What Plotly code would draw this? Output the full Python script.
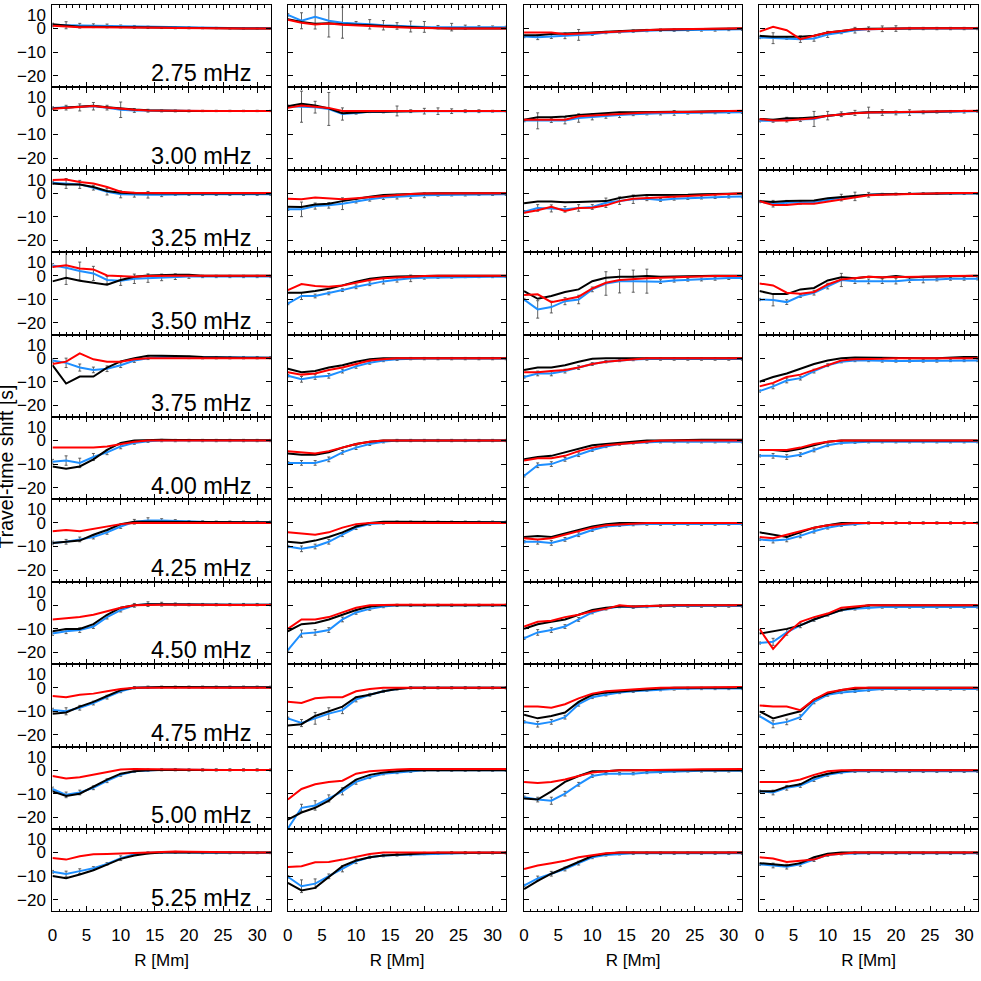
import plotly.graph_objects as go

# ---------------- data ----------------
R = [0, 2, 4, 6, 8, 10, 12, 14, 16, 18, 20, 22, 24, 26, 28, 30, 32]
FREQ_LABELS = ["2.75 mHz", "3.00 mHz", "3.25 mHz", "3.50 mHz", "3.75 mHz", "4.00 mHz",
               "4.25 mHz", "4.50 mHz", "4.75 mHz", "5.00 mHz", "5.25 mHz"]
X_TICKS = [0, 5, 10, 15, 20, 25, 30]
Y_TICKS = [-20, -10, 0]
Y_TOP_LABEL = "10"
X_TITLE = "R [Mm]"
Y_TITLE = "Travel-time shift [s]"

# column 1
BLACK_C1 = [
    [1.8, 1.2, 0.8, 0.8, 0.7, 0.6, 0.5, 0.4, 0.3, 0.2, 0.2, 0.1, 0.1, 0.0, 0.0, 0.0, 0.0],
    [1.0, 1.5, 1.7, 2.2, 1.6, 1.0, 0.6, 0.3, 0.1, 0.0, 0.0, 0.0, 0.0, 0.0, 0.0, 0.0, 0.0],
    [4.2, 3.8, 3.8, 2.7, 1.0, 0.3, 0.0, -0.1, -0.1, -0.1, -0.1, -0.1, -0.1, -0.1, -0.1, -0.1, -0.1],
    [-2.4, -0.9, -2.1, -3.0, -3.8, -1.8, -0.4, 0.1, 0.4, 0.4, 0.4, 0.0, 0.0, 0.0, 0.0, 0.0, 0.0],
    [-3.0, -10.8, -7.8, -7.8, -4.0, -1.4, 0.0, 1.0, 1.0, 1.0, 0.8, 0.5, 0.3, 0.3, 0.2, 0.2, 0.2],
    [-11.0, -12.0, -11.0, -8.0, -4.0, -1.0, 0.0, 0.3, 0.3, 0.2, 0.2, 0.1, 0.1, 0.1, 0.1, 0.1, 0.1],
    [-8.5, -8.0, -7.5, -5.0, -3.0, -0.5, 0.5, 0.5, 0.5, 0.4, 0.3, 0.3, 0.3, 0.3, 0.3, 0.3, 0.3],
    [-11.0, -10.0, -10.0, -8.0, -4.0, -1.0, 0.0, 0.5, 0.5, 0.4, 0.3, 0.3, 0.3, 0.3, 0.3, 0.3, 0.3],
    [-11.0, -10.5, -8.0, -6.0, -3.5, -1.0, 0.0, 0.3, 0.3, 0.3, 0.2, 0.2, 0.2, 0.2, 0.2, 0.2, 0.2],
    [-9.0, -11.0, -10.0, -7.0, -4.0, -1.5, -0.5, 0.0, 0.2, 0.2, 0.1, 0.1, 0.1, 0.1, 0.1, 0.1, 0.1],
    [-10.0, -10.9, -9.3, -7.5, -5.1, -2.7, -1.3, -0.4, 0.0, 0.1, 0.1, 0.0, 0.0, 0.0, 0.0, 0.0, 0.0],
]
RED_C1 = [
    [1.2, 0.8, 0.6, 0.6, 0.6, 0.5, 0.4, 0.3, 0.3, 0.2, 0.1, 0.1, 0.0, 0.0, 0.0, 0.0, 0.0],
    [0.9, 1.4, 1.6, 2.1, 1.5, 0.9, 0.5, 0.2, 0.1, 0.0, 0.0, 0.0, 0.0, 0.0, 0.0, 0.0, 0.0],
    [5.7, 5.9, 4.8, 4.2, 2.7, 0.7, 0.3, 0.1, 0.1, 0.1, 0.1, 0.1, 0.1, 0.1, 0.1, 0.1, 0.1],
    [3.7, 4.4, 3.1, 2.7, 0.1, -0.1, -0.4, -0.1, 0.1, 0.0, 0.0, 0.0, 0.0, 0.0, 0.0, 0.0, 0.0],
    [-2.5, -1.5, 2.0, -0.5, -1.5, -1.5, -0.5, 0.0, 0.0, 0.0, 0.0, 0.0, 0.0, 0.0, 0.0, 0.0, 0.0],
    [-3.0, -3.0, -3.0, -3.0, -2.5, -1.5, -0.5, 0.0, 0.0, 0.0, 0.0, 0.0, 0.0, 0.0, 0.0, 0.0, 0.0],
    [-3.5, -3.0, -3.5, -2.5, -1.5, -0.5, 0.0, 0.0, 0.0, 0.0, 0.0, 0.0, 0.0, 0.0, 0.0, 0.0, 0.0],
    [-6.0, -5.5, -5.0, -4.0, -2.5, -1.0, 0.0, 0.2, 0.2, 0.2, 0.1, 0.1, 0.1, 0.1, 0.1, 0.1, 0.1],
    [-3.5, -4.0, -3.0, -2.5, -1.5, -0.5, 0.0, 0.0, 0.0, 0.0, 0.0, 0.0, 0.0, 0.0, 0.0, 0.0, 0.0],
    [-2.5, -3.5, -3.0, -2.0, -1.0, 0.3, 0.5, 0.5, 0.4, 0.3, 0.2, 0.2, 0.1, 0.1, 0.1, 0.1, 0.1],
    [-2.3, -3.0, -1.6, -0.7, -0.6, -0.4, 0.1, 0.3, 0.4, 0.4, 0.3, 0.3, 0.1, 0.0, 0.0, 0.0, 0.0],
]
BLUE_C1 = [
    [1.5, 1.4, 1.2, 1.2, 1.1, 0.9, 0.7, 0.5, 0.4, 0.3, 0.3, 0.2, 0.2, 0.1, 0.1, 0.1, 0.1],
    [1.2, 1.4, 1.5, 2.0, 1.4, 0.5, 0.2, 0.1, 0.0, 0.0, 0.0, 0.0, 0.0, 0.0, 0.0, 0.0, 0.0],
    [4.5, 4.2, 3.8, 2.4, 0.7, -0.4, -0.6, -0.6, -0.6, -0.4, -0.4, -0.4, -0.4, -0.4, -0.4, -0.4, -0.4],
    [4.4, 3.4, 2.0, 1.0, -1.8, -2.1, -1.3, -1.0, -0.7, -0.4, -0.3, -0.3, -0.3, -0.3, -0.3, -0.3, -0.3],
    [-1.0, -2.0, -4.0, -5.0, -4.5, -3.0, -1.0, 0.0, 0.5, 0.5, 0.3, 0.2, 0.2, 0.2, 0.2, 0.2, 0.2],
    [-9.0, -8.5, -9.5, -7.0, -5.0, -2.5, -1.0, -0.3, 0.0, 0.0, 0.0, 0.0, 0.0, 0.0, 0.0, 0.0, 0.0],
    [-8.5, -8.0, -7.0, -6.0, -4.0, -1.5, 0.5, 1.0, 1.0, 0.8, 0.5, 0.4, 0.3, 0.3, 0.3, 0.3, 0.3],
    [-12.0, -11.0, -10.5, -9.0, -5.0, -2.0, 0.0, 0.5, 0.5, 0.4, 0.3, 0.3, 0.3, 0.3, 0.3, 0.3, 0.3],
    [-9.5, -10.0, -8.5, -6.5, -4.0, -1.5, 0.0, 0.2, 0.2, 0.2, 0.2, 0.2, 0.2, 0.2, 0.2, 0.2, 0.2],
    [-8.0, -10.5, -9.5, -7.5, -4.5, -2.0, -0.5, 0.0, 0.2, 0.2, 0.1, 0.1, 0.1, 0.1, 0.1, 0.1, 0.1],
    [-8.2, -9.1, -7.9, -6.7, -4.8, -2.4, -0.7, -0.1, 0.0, 0.1, 0.0, -0.1, -0.1, -0.1, -0.1, -0.1, -0.1],
]
ERR_C1 = [
    [0.8, 1.5, 1.0, 0.8, 0.8, 0.6, 0.6, 0.5, 0.4, 0.4, 0.4, 0.3, 0.3, 0.3, 0.3, 0.3, 0.3],
    [0.6, 1.0, 1.5, 1.6, 1.0, 3.3, 0.8, 0.6, 0.4, 0.4, 0.4, 0.3, 0.3, 0.3, 0.3, 0.3, 0.3],
    [0.6, 2.1, 1.7, 1.0, 1.4, 1.5, 1.0, 1.4, 0.8, 0.5, 0.5, 0.5, 0.5, 0.5, 0.5, 0.5, 0.5],
    [0.8, 7.1, 3.8, 3.0, 1.5, 2.0, 2.0, 1.8, 1.4, 1.2, 0.8, 0.5, 0.5, 0.5, 0.5, 0.5, 0.5],
    [0.8, 2.0, 1.5, 1.2, 1.2, 1.0, 0.8, 0.6, 0.5, 0.5, 0.5, 0.5, 0.5, 0.5, 0.5, 0.5, 0.5],
    [1.0, 2.0, 2.0, 1.5, 1.0, 1.0, 0.6, 0.5, 0.5, 0.5, 0.5, 0.5, 0.5, 0.5, 0.5, 0.5, 0.5],
    [0.8, 1.0, 1.0, 0.8, 0.8, 0.8, 1.0, 1.2, 0.8, 0.6, 0.5, 0.5, 0.5, 0.5, 0.5, 0.5, 0.5],
    [0.8, 1.0, 1.0, 0.8, 0.8, 0.8, 0.8, 1.0, 0.8, 0.6, 0.5, 0.5, 0.5, 0.5, 0.5, 0.5, 0.5],
    [0.8, 1.5, 1.0, 0.8, 0.8, 0.6, 0.5, 0.5, 0.5, 0.5, 0.5, 0.5, 0.5, 0.5, 0.5, 0.5, 0.5],
    [0.8, 1.2, 1.0, 0.8, 0.8, 0.6, 0.5, 0.5, 0.5, 0.5, 0.5, 0.5, 0.5, 0.5, 0.5, 0.5, 0.5],
    [0.6, 1.2, 1.0, 0.7, 0.5, 1.0, 0.5, 0.4, 0.4, 0.4, 0.4, 0.4, 0.4, 0.4, 0.4, 0.4, 0.4],
]

# column 2
BLACK_C2 = [
    [4.0, 2.8, 2.0, 2.3, 1.8, 1.7, 1.4, 1.1, 0.8, 0.5, 0.2, 0.1, 0.0, 0.0, 0.0, 0.0, 0.0],
    [2.0, 3.0, 2.3, 1.1, -1.0, -0.6, -0.3, -0.3, -0.1, 0.0, 0.0, 0.0, 0.0, 0.0, 0.0, 0.0, 0.0],
    [-5.7, -5.8, -4.7, -4.4, -3.3, -2.3, -1.4, -0.7, -0.4, -0.3, -0.1, 0.0, 0.0, 0.0, 0.0, 0.0, 0.0],
    [-7.2, -7.2, -6.5, -5.5, -4.1, -2.5, -1.3, -0.6, -0.3, -0.1, 0.0, 0.0, 0.0, 0.0, 0.0, 0.0, 0.0],
    [-4.5, -6.0, -5.5, -4.0, -3.0, -1.5, -0.5, 0.0, 0.0, 0.0, 0.0, 0.0, 0.0, 0.0, 0.0, 0.0, 0.0],
    [-5.5, -6.0, -6.0, -5.0, -3.0, -1.5, -0.5, 0.0, 0.0, 0.0, 0.0, 0.0, 0.0, 0.0, 0.0, 0.0, 0.0],
    [-8.0, -8.5, -7.5, -6.0, -4.0, -1.5, 0.0, 0.5, 0.5, 0.5, 0.5, 0.4, 0.3, 0.3, 0.3, 0.3, 0.3],
    [-11.0, -8.0, -7.5, -6.0, -4.0, -2.0, -0.5, 0.0, 0.0, 0.0, 0.0, 0.0, 0.0, 0.0, 0.0, 0.0, 0.0],
    [-16.0, -15.5, -12.0, -10.0, -8.0, -4.0, -3.0, -1.5, -0.5, 0.0, 0.0, 0.0, 0.0, 0.0, 0.0, 0.0, 0.0],
    [-21.0, -18.0, -16.0, -13.0, -8.0, -4.0, -2.0, -1.0, -0.5, 0.0, 0.0, 0.0, 0.0, 0.0, 0.0, 0.0, 0.0],
    [-12.9, -16.1, -15.0, -10.3, -5.8, -3.4, -2.0, -1.3, -0.9, -0.6, -0.3, -0.1, -0.1, -0.1, -0.1, -0.1, -0.1],
]
RED_C2 = [
    [3.7, 2.5, 1.7, 2.1, 1.6, 1.4, 1.3, 1.0, 0.6, 0.3, 0.1, 0.0, 0.0, 0.0, 0.0, 0.0, 0.0],
    [1.3, 2.3, 1.8, 1.3, 0.0, 0.0, 0.3, 0.0, 0.0, 0.0, 0.0, 0.0, 0.0, 0.0, 0.0, 0.0, 0.0],
    [-2.3, -2.5, -1.8, -2.3, -2.5, -2.1, -1.6, -1.0, -0.6, -0.3, -0.1, 0.0, 0.0, 0.0, 0.0, 0.0, 0.0],
    [-6.1, -3.5, -4.4, -4.7, -4.1, -3.0, -1.8, -1.1, -0.7, -0.4, -0.1, 0.0, 0.0, 0.0, 0.0, 0.0, 0.0],
    [-6.0, -7.0, -6.5, -5.0, -4.0, -2.5, -1.0, -0.5, 0.0, 0.0, 0.0, 0.0, 0.0, 0.0, 0.0, 0.0, 0.0],
    [-4.5, -5.0, -5.5, -4.5, -3.0, -1.5, -0.5, 0.0, 0.0, 0.0, 0.0, 0.0, 0.0, 0.0, 0.0, 0.0, 0.0],
    [-4.0, -4.5, -5.0, -4.0, -2.0, -0.5, 0.0, 0.0, 0.0, 0.0, 0.0, 0.0, 0.0, 0.0, 0.0, 0.0, 0.0],
    [-10.0, -6.0, -6.0, -5.0, -3.0, -1.0, 0.0, 0.2, 0.2, 0.2, 0.2, 0.2, 0.2, 0.2, 0.2, 0.2, 0.2],
    [-6.0, -6.5, -4.5, -4.0, -4.0, -1.5, -0.5, 0.0, 0.0, 0.0, 0.0, 0.0, 0.0, 0.0, 0.0, 0.0, 0.0],
    [-12.5, -8.0, -6.0, -5.0, -4.5, -1.5, -0.5, 0.0, 0.3, 0.5, 0.5, 0.5, 0.5, 0.5, 0.5, 0.5, 0.5],
    [-6.1, -5.8, -4.1, -4.0, -3.0, -1.8, -0.6, 0.0, 0.0, 0.0, 0.0, 0.0, 0.0, 0.0, 0.0, 0.0, 0.0],
]
BLUE_C2 = [
    [5.8, 3.3, 5.0, 3.3, 2.5, 2.3, 1.8, 1.4, 1.1, 0.85, 0.7, 0.6, 0.6, 0.6, 0.6, 0.6, 0.6],
    [2.0, 1.8, 1.6, 0.85, -1.3, -0.85, -0.3, -0.4, 0.0, -0.1, -0.1, -0.1, -0.1, -0.1, -0.1, -0.1, -0.1],
    [-6.8, -6.8, -5.4, -5.1, -4.4, -3.3, -2.5, -1.8, -1.4, -1.1, -0.85, -0.7, -0.6, -0.6, -0.4, -0.4, -0.4],
    [-11.8, -8.6, -8.6, -7.5, -6.1, -4.7, -3.4, -2.4, -1.7, -1.1, -0.85, -0.7, -0.6, -0.4, -0.4, -0.4, -0.4],
    [-7.5, -9.0, -8.0, -7.5, -5.5, -3.5, -2.0, -1.0, -0.5, -0.2, -0.2, -0.2, -0.2, -0.2, -0.2, -0.2, -0.2],
    [-9.5, -9.5, -9.5, -8.0, -5.0, -3.0, -1.5, -0.5, 0.0, 0.0, 0.0, 0.0, 0.0, 0.0, 0.0, 0.0, 0.0],
    [-10.0, -11.0, -10.0, -8.0, -5.0, -2.0, -0.5, 0.0, 0.3, 0.3, 0.3, 0.3, 0.3, 0.3, 0.3, 0.3, 0.3],
    [-19.0, -12.0, -11.5, -10.5, -6.0, -3.0, -1.5, -0.5, 0.0, 0.0, 0.0, 0.0, 0.0, 0.0, 0.0, 0.0, 0.0],
    [-13.0, -15.0, -13.0, -11.0, -9.5, -5.0, -3.0, -1.5, -0.5, 0.0, 0.0, 0.0, 0.0, 0.0, 0.0, 0.0, 0.0],
    [-24.8, -16.0, -15.0, -12.0, -9.0, -5.0, -3.0, -1.5, -1.0, -0.5, 0.0, 0.0, 0.0, 0.0, 0.0, 0.0, 0.0],
    [-10.3, -14.3, -13.2, -10.1, -6.9, -3.7, -2.0, -1.3, -1.0, -0.85, -0.4, -0.3, -0.1, -0.1, -0.1, -0.1, -0.1],
]
ERR_C2 = [
    [0.5, 3.4, 5.2, 6.9, 6.6, 0.7, 2.0, 2.0, 1.4, 2.3, 2.3, 0.7, 1.6, 0.85, 0.6, 0.5, 0.4],
    [0.5, 6.6, 2.5, 7.0, 2.6, 0.5, 0.4, 0.4, 2.1, 0.6, 1.2, 1.4, 1.0, 0.6, 0.6, 0.4, 0.3],
    [0.5, 3.1, 1.3, 1.2, 2.5, 0.8, 0.8, 0.8, 1.0, 1.0, 1.0, 0.5, 0.5, 0.5, 0.5, 0.5, 0.5],
    [0.5, 1.5, 0.8, 0.6, 0.6, 0.8, 0.8, 1.1, 1.0, 1.4, 0.6, 0.4, 0.4, 0.4, 0.4, 0.4, 0.4],
    [0.5, 1.2, 1.0, 1.0, 0.8, 0.8, 0.6, 0.5, 0.5, 0.5, 0.5, 0.5, 0.5, 0.5, 0.5, 0.5, 0.5],
    [0.5, 1.0, 1.0, 1.0, 0.8, 0.8, 0.6, 0.5, 0.5, 0.5, 0.5, 0.5, 0.5, 0.5, 0.5, 0.5, 0.5],
    [0.5, 1.2, 1.0, 1.0, 0.8, 0.8, 0.6, 0.5, 0.5, 0.5, 0.5, 0.5, 0.5, 0.5, 0.5, 0.5, 0.5],
    [0.5, 1.5, 1.2, 1.0, 1.0, 0.8, 0.6, 0.5, 0.5, 0.5, 0.5, 0.5, 0.5, 0.5, 0.5, 0.5, 0.5],
    [0.5, 1.5, 2.5, 2.5, 1.5, 1.0, 0.6, 0.5, 0.5, 0.5, 0.5, 0.5, 0.5, 0.5, 0.5, 0.5, 0.5],
    [0.5, 1.5, 2.0, 1.5, 1.5, 1.0, 0.6, 0.5, 0.5, 0.5, 0.5, 0.5, 0.5, 0.5, 0.5, 0.5, 0.5],
    [0.5, 2.7, 2.0, 1.0, 1.3, 1.0, 0.5, 0.5, 0.5, 0.5, 0.5, 0.5, 0.5, 0.5, 0.5, 0.5, 0.5],
]

# column 3
BLACK_C3 = [
    [-2.8, -2.8, -2.3, -2.2, -2.1, -1.7, -1.4, -1.0, -0.8, -0.6, -0.4, -0.3, -0.3, -0.2, -0.1, 0.0, 0.0],
    [-3.7, -2.7, -2.7, -2.4, -1.7, -1.3, -0.85, -0.6, -0.6, -0.4, -0.4, -0.3, -0.3, -0.1, -0.1, 0.0, 0.0],
    [-4.2, -3.5, -3.5, -3.8, -3.7, -3.4, -3.3, -2.0, -1.1, -0.7, -0.7, -0.85, -0.6, -0.4, -0.3, -0.1, -0.1],
    [-6.5, -9.8, -8.6, -6.9, -5.8, -2.3, -0.85, -0.4, -0.4, -0.1, -0.4, -0.4, -0.3, -0.1, 0.0, 0.0, 0.0],
    [-5.0, -4.0, -4.0, -3.0, -1.5, -0.3, 0.0, 0.0, 0.0, 0.0, 0.0, 0.0, 0.0, 0.0, 0.0, 0.0, 0.0],
    [-8.0, -7.0, -6.5, -5.0, -3.5, -2.0, -1.5, -1.0, -0.5, 0.0, 0.0, 0.2, 0.3, 0.3, 0.3, 0.3, 0.3],
    [-6.0, -5.5, -6.0, -4.5, -3.0, -1.5, -0.5, 0.0, 0.0, 0.0, 0.0, 0.0, 0.0, 0.0, 0.0, 0.0, 0.0],
    [-10.0, -8.0, -7.0, -6.0, -4.0, -2.0, -1.0, -0.5, -0.5, -0.3, 0.0, 0.0, 0.0, 0.0, 0.0, 0.0, 0.0],
    [-11.5, -13.0, -12.0, -10.5, -6.0, -3.0, -2.0, -1.5, -1.0, -0.5, -0.3, 0.0, 0.0, 0.0, 0.0, 0.0, 0.0],
    [-12.0, -12.5, -9.0, -5.0, -2.5, -0.5, -0.5, 0.0, 0.0, 0.0, 0.0, 0.0, 0.0, 0.0, 0.0, 0.0, 0.0],
    [-15.5, -12.0, -9.0, -6.5, -4.0, -1.5, -0.5, 0.0, 0.0, 0.0, 0.0, 0.0, 0.0, 0.0, 0.0, 0.0, 0.0],
]
RED_C3 = [
    [-1.7, -1.7, -1.7, -2.4, -2.1, -1.7, -1.4, -1.0, -0.85, -0.6, -0.4, -0.3, -0.3, -0.3, -0.1, 0.0, 0.1],
    [-3.7, -3.7, -3.7, -3.7, -2.3, -2.0, -1.4, -1.1, -0.85, -0.7, -0.6, -0.6, -0.4, -0.3, -0.1, 0.0, 0.1],
    [-8.2, -7.2, -5.7, -7.5, -6.2, -6.1, -5.1, -3.3, -2.3, -2.0, -1.7, -1.6, -1.1, -0.85, -0.6, -0.3, 0.0],
    [-8.2, -7.9, -11.2, -10.1, -8.9, -5.4, -3.0, -1.8, -1.3, -1.1, -0.85, -0.6, -0.4, -0.3, -0.1, -0.1, -0.1],
    [-6.0, -6.0, -5.5, -5.0, -4.0, -2.5, -1.5, -1.0, -0.5, 0.0, 0.0, 0.0, 0.0, 0.0, 0.0, 0.0, 0.0],
    [-8.5, -7.5, -7.5, -6.5, -4.5, -3.0, -2.0, -1.5, -1.0, -0.5, 0.0, 0.0, 0.0, 0.0, 0.0, 0.0, 0.0],
    [-6.5, -7.0, -6.5, -5.0, -3.5, -2.0, -1.0, -0.5, -0.3, 0.0, 0.0, 0.0, 0.0, 0.0, 0.0, 0.0, 0.0],
    [-9.0, -7.0, -6.5, -5.0, -4.0, -2.5, -1.5, 0.0, -0.5, -0.3, 0.0, 0.0, 0.0, 0.0, 0.0, 0.0, 0.0],
    [-8.0, -8.0, -8.5, -7.0, -4.5, -2.5, -1.5, -1.0, -0.5, -0.3, 0.0, 0.0, 0.0, 0.3, 0.3, 0.3, 0.3],
    [-5.0, -5.5, -5.0, -4.0, -2.5, -1.0, -0.5, 0.0, 0.0, 0.0, 0.0, 0.2, 0.3, 0.4, 0.5, 0.5, 0.5],
    [-7.0, -5.5, -4.5, -3.5, -2.0, -1.0, -0.3, 0.0, 0.0, 0.0, 0.0, 0.0, 0.0, 0.0, 0.0, 0.0, 0.0],
]
BLUE_C3 = [
    [-3.4, -3.7, -3.4, -3.1, -2.7, -2.4, -1.7, -1.4, -1.1, -0.85, -0.7, -0.7, -0.6, -0.6, -0.6, -0.4, -0.3],
    [-4.1, -4.2, -4.1, -4.1, -3.0, -2.5, -2.1, -1.7, -1.4, -1.1, -1.0, -0.85, -0.85, -0.7, -0.7, -0.6, -0.6],
    [-7.8, -6.2, -6.4, -6.8, -6.2, -5.8, -4.0, -3.1, -2.5, -2.3, -2.8, -2.3, -2.0, -1.8, -1.6, -1.4, -1.3],
    [-10.1, -14.3, -13.3, -10.8, -10.1, -5.8, -3.3, -2.3, -2.3, -2.3, -2.5, -2.0, -1.7, -1.6, -1.3, -1.0, -1.0],
    [-8.0, -6.5, -6.5, -5.5, -4.0, -2.5, -1.5, -1.0, -0.6, -0.4, -0.4, -0.4, -0.4, -0.4, -0.4, -0.4, -0.4],
    [-15.0, -10.5, -10.0, -8.0, -6.0, -4.0, -2.5, -1.5, -1.0, -0.7, -0.5, -0.5, -0.5, -0.5, -0.5, -0.5, -0.5],
    [-8.0, -8.0, -8.5, -7.0, -5.0, -3.0, -1.5, -1.0, -0.7, -0.5, -0.5, -0.5, -0.5, -0.5, -0.5, -0.5, -0.5],
    [-14.0, -11.5, -10.5, -9.0, -6.0, -3.0, -1.5, -0.5, -0.8, -0.5, -0.3, -0.3, -0.3, -0.3, -0.3, -0.3, -0.3],
    [-14.5, -15.5, -14.5, -12.5, -7.0, -4.0, -3.0, -2.0, -1.5, -1.0, -0.8, -0.5, -0.3, -0.3, -0.3, -0.3, -0.3],
    [-11.5, -12.5, -13.0, -10.0, -6.0, -2.5, -1.5, -1.5, -1.5, -1.0, -0.8, -0.5, -0.3, -0.3, -0.3, -0.3, -0.3],
    [-14.0, -11.0, -9.0, -7.0, -4.5, -2.0, -1.0, -0.5, -0.3, -0.3, -0.3, -0.3, -0.3, -0.3, -0.3, -0.3, -0.3],
]
ERR_C3 = [
    [0.5, 1.0, 0.8, 1.2, 2.3, 0.5, 0.5, 0.5, 0.5, 0.5, 0.5, 0.5, 0.5, 0.5, 0.5, 0.5, 0.5],
    [0.5, 3.4, 0.8, 1.4, 1.8, 1.3, 1.0, 1.1, 0.6, 0.6, 0.7, 1.0, 0.5, 0.5, 0.5, 0.5, 0.5],
    [0.5, 1.4, 1.5, 1.2, 1.4, 1.0, 2.0, 1.6, 1.8, 0.8, 0.6, 0.6, 0.6, 0.6, 0.6, 0.6, 0.6],
    [0.5, 3.7, 2.5, 1.5, 1.8, 1.0, 5.0, 5.0, 4.7, 5.1, 0.8, 0.7, 0.6, 0.6, 0.6, 0.6, 0.6],
    [0.5, 1.0, 1.0, 0.8, 0.8, 0.6, 0.5, 0.5, 0.5, 0.5, 0.5, 0.5, 0.5, 0.5, 0.5, 0.5, 0.5],
    [0.5, 1.0, 1.0, 0.8, 0.8, 0.6, 0.5, 0.5, 0.5, 0.5, 0.5, 0.5, 0.5, 0.5, 0.5, 0.5, 0.5],
    [0.5, 1.0, 1.0, 0.8, 0.8, 0.6, 0.5, 0.5, 0.5, 0.5, 0.5, 0.5, 0.5, 0.5, 0.5, 0.5, 0.5],
    [0.5, 1.2, 1.0, 0.8, 0.8, 0.6, 0.5, 0.5, 0.5, 0.5, 0.5, 0.5, 0.5, 0.5, 0.5, 0.5, 0.5],
    [0.5, 1.2, 1.0, 0.8, 0.8, 0.6, 0.5, 0.5, 0.5, 0.5, 0.5, 0.5, 0.5, 0.5, 0.5, 0.5, 0.5],
    [0.5, 1.0, 1.5, 1.0, 0.8, 0.6, 0.5, 0.5, 0.5, 0.5, 0.5, 0.5, 0.5, 0.5, 0.5, 0.5, 0.5],
    [0.5, 1.0, 1.0, 0.8, 0.8, 0.6, 0.5, 0.5, 0.5, 0.5, 0.5, 0.5, 0.5, 0.5, 0.5, 0.5, 0.5],
]

# column 4
BLACK_C4 = [
    [-3.1, -3.5, -3.5, -3.5, -3.1, -1.7, -1.0, -0.3, -0.1, 0.0, 0.0, 0.1, 0.1, 0.1, 0.1, 0.1, 0.1],
    [-3.4, -3.7, -3.1, -3.1, -2.7, -2.0, -1.3, -0.85, -0.6, -0.4, -0.6, -0.4, -0.3, -0.3, -0.1, 0.0, 0.0],
    [-3.3, -3.7, -3.3, -3.3, -3.0, -2.1, -1.6, -1.0, -0.6, -0.4, -0.3, -0.1, 0.0, 0.0, 0.0, 0.0, 0.0],
    [-6.5, -7.8, -7.8, -5.8, -5.2, -2.0, -0.6, -1.1, -0.4, -0.7, -0.1, -0.7, -0.4, -0.3, -0.1, 0.0, 0.0],
    [-10.0, -8.0, -6.5, -4.5, -2.5, -1.0, 0.0, 0.3, 0.2, 0.0, 0.0, 0.0, 0.0, 0.0, 0.3, 0.5, 0.5],
    [-4.0, -4.0, -4.5, -3.5, -2.0, -0.5, 0.0, 0.0, 0.0, 0.0, 0.0, 0.0, 0.0, 0.0, 0.0, 0.0, 0.0],
    [-4.0, -5.0, -6.0, -4.0, -2.0, -1.0, 0.0, 0.0, 0.0, 0.0, 0.0, 0.0, 0.0, 0.0, 0.0, 0.0, 0.0],
    [-12.0, -11.0, -10.0, -8.5, -6.0, -4.0, -2.0, -1.0, 0.0, 0.0, 0.0, 0.0, 0.0, 0.0, 0.0, 0.0, 0.0],
    [-10.0, -13.0, -11.5, -10.0, -5.0, -2.5, -1.0, -0.5, 0.0, 0.0, 0.0, 0.0, 0.0, 0.0, 0.0, 0.0, 0.0],
    [-9.0, -9.0, -7.0, -6.0, -3.0, -1.5, -0.5, 0.0, 0.0, 0.0, 0.0, 0.0, 0.0, 0.0, 0.0, 0.0, 0.0],
    [-4.5, -5.0, -5.5, -4.5, -2.0, -0.5, 0.0, 0.0, 0.0, 0.0, 0.0, 0.0, 0.0, 0.0, 0.0, 0.0, 0.0],
]
RED_C4 = [
    [-1.3, 0.7, -0.7, -4.5, -3.1, -1.7, -1.0, -0.3, -0.3, -0.1, 0.0, 0.1, 0.1, 0.1, 0.1, 0.1, 0.1],
    [-3.4, -4.1, -4.1, -3.7, -3.1, -2.0, -1.4, -1.0, -0.7, -0.6, -0.6, -0.4, -0.4, -0.3, -0.1, 0.0, 0.1],
    [-3.3, -5.0, -5.0, -4.4, -4.4, -3.5, -2.5, -1.8, -0.85, -0.6, -0.4, -0.3, -0.1, 0.0, 0.1, 0.1, 0.1],
    [-3.3, -4.1, -7.2, -7.6, -6.9, -3.7, -1.6, -1.0, -0.4, -0.6, -0.6, -0.4, -0.4, -0.3, -0.1, -0.1, 0.0],
    [-12.0, -10.5, -8.0, -7.0, -5.0, -3.0, -1.0, -0.5, -0.5, -0.3, 0.0, 0.0, 0.0, 0.0, 0.0, 0.0, 0.0],
    [-4.0, -4.0, -4.0, -3.0, -1.5, -0.5, 0.0, 0.0, 0.0, 0.0, 0.0, 0.0, 0.0, 0.0, 0.0, 0.0, 0.0],
    [-6.0, -6.5, -5.0, -3.5, -2.0, -1.0, -0.5, 0.0, 0.0, 0.0, 0.0, 0.0, 0.0, 0.0, 0.0, 0.0, 0.0],
    [-10.0, -18.5, -12.0, -7.0, -5.0, -3.5, -1.0, -0.5, 0.0, 0.0, 0.0, 0.0, 0.0, 0.0, 0.0, 0.0, 0.0],
    [-7.5, -8.0, -8.0, -9.5, -5.0, -2.0, -1.0, 0.0, 0.0, 0.0, 0.0, 0.0, 0.0, 0.0, 0.0, 0.0, 0.0],
    [-5.0, -5.0, -5.0, -4.0, -2.0, -0.5, 0.0, 0.0, 0.0, 0.0, 0.0, 0.0, 0.0, 0.0, 0.0, 0.0, 0.0],
    [-2.0, -2.5, -4.0, -3.5, -3.0, -1.0, -0.5, 0.0, 0.0, 0.0, 0.0, 0.0, 0.0, 0.0, 0.0, 0.0, 0.0],
]
BLUE_C4 = [
    [-3.8, -4.1, -4.1, -4.5, -4.2, -2.5, -1.7, -0.7, -0.3, -0.1, 0.0, 0.0, 0.0, 0.0, 0.0, 0.0, 0.0],
    [-4.2, -4.2, -3.7, -3.7, -3.4, -2.0, -1.4, -0.85, -0.7, -0.7, -0.85, -0.7, -0.6, -0.4, -0.3, -0.3, -0.1],
    [-3.5, -4.4, -4.0, -4.0, -3.7, -2.8, -1.8, -1.3, -0.6, -0.4, -0.3, -0.1, -0.1, -0.1, -0.1, -0.1, -0.1],
    [-10.1, -10.3, -11.2, -8.6, -7.2, -4.4, -1.8, -2.3, -2.4, -2.3, -2.3, -1.8, -1.8, -1.6, -1.3, -1.3, -1.3],
    [-14.0, -12.0, -9.5, -8.5, -5.5, -3.0, -1.5, -1.0, -1.0, -1.2, -1.2, -1.2, -1.2, -1.2, -1.0, -1.0, -1.0],
    [-6.5, -6.5, -7.0, -6.0, -4.0, -2.0, -1.0, -0.7, -0.5, -0.5, -0.5, -0.5, -0.5, -0.5, -0.5, -0.5, -0.5],
    [-7.0, -7.5, -7.0, -5.5, -3.5, -2.0, -1.0, -0.5, 0.0, 0.0, 0.0, 0.0, 0.0, 0.0, 0.0, 0.0, 0.0],
    [-16.0, -15.5, -11.5, -8.5, -6.0, -4.0, -2.0, -1.5, -1.0, -0.7, -0.7, -0.7, -0.7, -0.7, -0.7, -0.7, -0.7],
    [-12.0, -15.5, -14.5, -12.5, -6.0, -3.0, -2.0, -1.5, -1.0, -0.5, -0.5, -0.5, -0.5, -0.5, -0.5, -0.5, -0.5],
    [-9.0, -9.5, -7.5, -6.5, -4.0, -2.0, -1.0, -0.5, -0.5, -0.5, -0.5, -0.5, -0.5, -0.5, -0.5, -0.5, -0.5],
    [-5.0, -5.5, -6.0, -5.0, -3.0, -1.0, -0.5, -0.3, -0.3, -0.3, -0.3, -0.3, -0.3, -0.3, -0.3, -0.3, -0.3],
]
ERR_C4 = [
    [0.5, 2.3, 0.5, 1.4, 1.2, 1.3, 0.5, 1.2, 1.0, 1.2, 1.2, 0.5, 0.5, 0.5, 0.5, 0.5, 0.5],
    [0.5, 0.6, 1.0, 0.8, 3.2, 1.8, 1.0, 1.1, 2.3, 1.2, 0.8, 1.2, 0.6, 0.5, 0.5, 0.6, 0.5],
    [0.5, 1.4, 1.0, 0.6, 0.6, 0.6, 1.4, 1.8, 1.0, 0.4, 0.4, 0.4, 0.4, 0.4, 0.4, 0.4, 0.4],
    [0.5, 2.5, 1.0, 0.6, 1.0, 1.2, 2.8, 1.0, 1.0, 1.0, 1.2, 1.0, 1.2, 0.6, 0.6, 0.6, 0.5],
    [0.5, 1.0, 1.0, 0.8, 0.8, 0.6, 0.5, 0.5, 0.5, 0.5, 0.5, 0.5, 0.5, 0.5, 0.5, 0.5, 0.5],
    [0.5, 1.0, 1.0, 0.8, 0.8, 0.6, 0.5, 0.5, 0.5, 0.5, 0.5, 0.5, 0.5, 0.5, 0.5, 0.5, 0.5],
    [0.5, 1.0, 1.0, 0.8, 0.8, 0.6, 0.5, 0.5, 0.5, 0.5, 0.5, 0.5, 0.5, 0.5, 0.5, 0.5, 0.5],
    [0.5, 1.5, 1.2, 1.0, 0.8, 0.6, 0.5, 0.5, 0.5, 0.5, 0.5, 0.5, 0.5, 0.5, 0.5, 0.5, 0.5],
    [0.5, 1.5, 1.2, 1.0, 0.8, 0.6, 0.5, 0.5, 0.5, 0.5, 0.5, 0.5, 0.5, 0.5, 0.5, 0.5, 0.5],
    [0.5, 1.0, 1.0, 0.8, 0.8, 0.6, 0.5, 0.5, 0.5, 0.5, 0.5, 0.5, 0.5, 0.5, 0.5, 0.5, 0.5],
    [0.5, 1.0, 1.0, 0.8, 0.8, 0.6, 0.5, 0.5, 0.5, 0.5, 0.5, 0.5, 0.5, 0.5, 0.5, 0.5, 0.5],
]

BLACK = [BLACK_C1, BLACK_C2, BLACK_C3, BLACK_C4]
RED = [RED_C1, RED_C2, RED_C3, RED_C4]
BLUE = [BLUE_C1, BLUE_C2, BLUE_C3, BLUE_C4]
ERR = [ERR_C1, ERR_C2, ERR_C3, ERR_C4]

# ---------------- layout (pixels) ----------------
W = H = 981
COL_LEFT = [47.7, 284.3, 521.7, 758.3]
COL_W = 219.5
ROW_TOP0 = 5.0
ROW_H = 82.4
NROWS = 11
NCOLS = 4
FONT = "Liberation Sans, Arial, Helvetica, sans-serif"
C_BLACK = "#000000"
C_RED = "#ff0000"
C_BLUE = "#1e8fff"
C_ERR = "rgba(70,70,70,0.85)"

fig = go.Figure()
layout = {}
annotations = []

for r in range(NROWS):
    for c in range(NCOLS):
        n = r * NCOLS + c + 1
        xs = "x" if n == 1 else f"x{n}"
        ys = "y" if n == 1 else f"y{n}"
        fig.add_trace(go.Scatter(
            x=R, y=BLUE[c][r], xaxis=xs, yaxis=ys, mode="lines",
            line=dict(color=C_BLUE, width=2),
            error_y=dict(type="data", array=ERR[c][r], visible=True,
                         color=C_ERR, thickness=1, width=1.5),
            showlegend=False, hoverinfo="skip"))
        fig.add_trace(go.Scatter(
            x=R, y=BLACK[c][r], xaxis=xs, yaxis=ys, mode="lines",
            line=dict(color=C_BLACK, width=2), showlegend=False, hoverinfo="skip"))
        fig.add_trace(go.Scatter(
            x=R, y=RED[c][r], xaxis=xs, yaxis=ys, mode="lines",
            line=dict(color=C_RED, width=2), showlegend=False, hoverinfo="skip"))

        left = COL_LEFT[c]
        top = ROW_TOP0 + r * ROW_H
        bottom = top + ROW_H
        xkey = "xaxis" if n == 1 else f"xaxis{n}"
        ykey = "yaxis" if n == 1 else f"yaxis{n}"
        last_row = (r == NROWS - 1)
        layout[xkey] = dict(
            domain=[left / W, (left + COL_W) / W], anchor=ys, range=[0, 32],
            showline=True, linecolor="black", linewidth=1.2, mirror="allticks",
            ticks="inside", ticklen=5, tickwidth=1, tickcolor="black",
            tickmode="array", tickvals=X_TICKS,
            showticklabels=last_row, tickfont=dict(size=17, color="black", family=FONT),
            ticklabelstandoff=8,
            showgrid=False, zeroline=False, fixedrange=True,
            minor=dict(ticks="inside", ticklen=2.5, tickwidth=1, tickcolor="black",
                       dtick=1, tick0=0, showgrid=False),
            title=dict(text=X_TITLE if last_row else "", font=dict(size=17, family=FONT, color="black"),
                       standoff=10),
        )
        layout[ykey] = dict(
            domain=[1 - bottom / H, 1 - top / H], anchor=xs, range=[-25, 10],
            showline=True, linecolor="black", linewidth=1.2, mirror="allticks",
            ticks="inside", ticklen=5, tickwidth=1, tickcolor="black",
            tickmode="array", tickvals=Y_TICKS,
            showticklabels=(c == 0), tickfont=dict(size=17, color="black", family=FONT),
            ticklabelstandoff=2,
            showgrid=False, zeroline=False, fixedrange=True,
        )
        if c == 0:
            annotations.append(dict(
                text=FREQ_LABELS[r], xref="paper", yref="paper",
                x=250 / W, y=1 - (top + 68.5) / H, xanchor="right", yanchor="middle",
                showarrow=False, font=dict(size=23.5, family=FONT, color="black")))
            annotations.append(dict(
                text=Y_TOP_LABEL, xref="paper", yref="paper",
                x=43 / W, y=1 - (top + 10.5) / H, xanchor="right", yanchor="middle",
                showarrow=False, font=dict(size=17, family=FONT, color="black")))

annotations.append(dict(
    text=Y_TITLE, xref="paper", yref="paper", x=1.5 / W, y=1 - 466 / H,
    xanchor="center", yanchor="middle", textangle=-90, showarrow=False,
    font=dict(size=19.5, family=FONT, color="black")))

fig.update_layout(**layout)
fig.update_layout(
    width=W, height=H, margin=dict(l=0, r=0, t=0, b=0),
    paper_bgcolor="white", plot_bgcolor="white",
    annotations=annotations, showlegend=False,
    font=dict(family=FONT, color="black"),
)

fig.write_html("out.html", config={"displayModeBar": False},
               post_script="document.body.style.margin='0px';")
